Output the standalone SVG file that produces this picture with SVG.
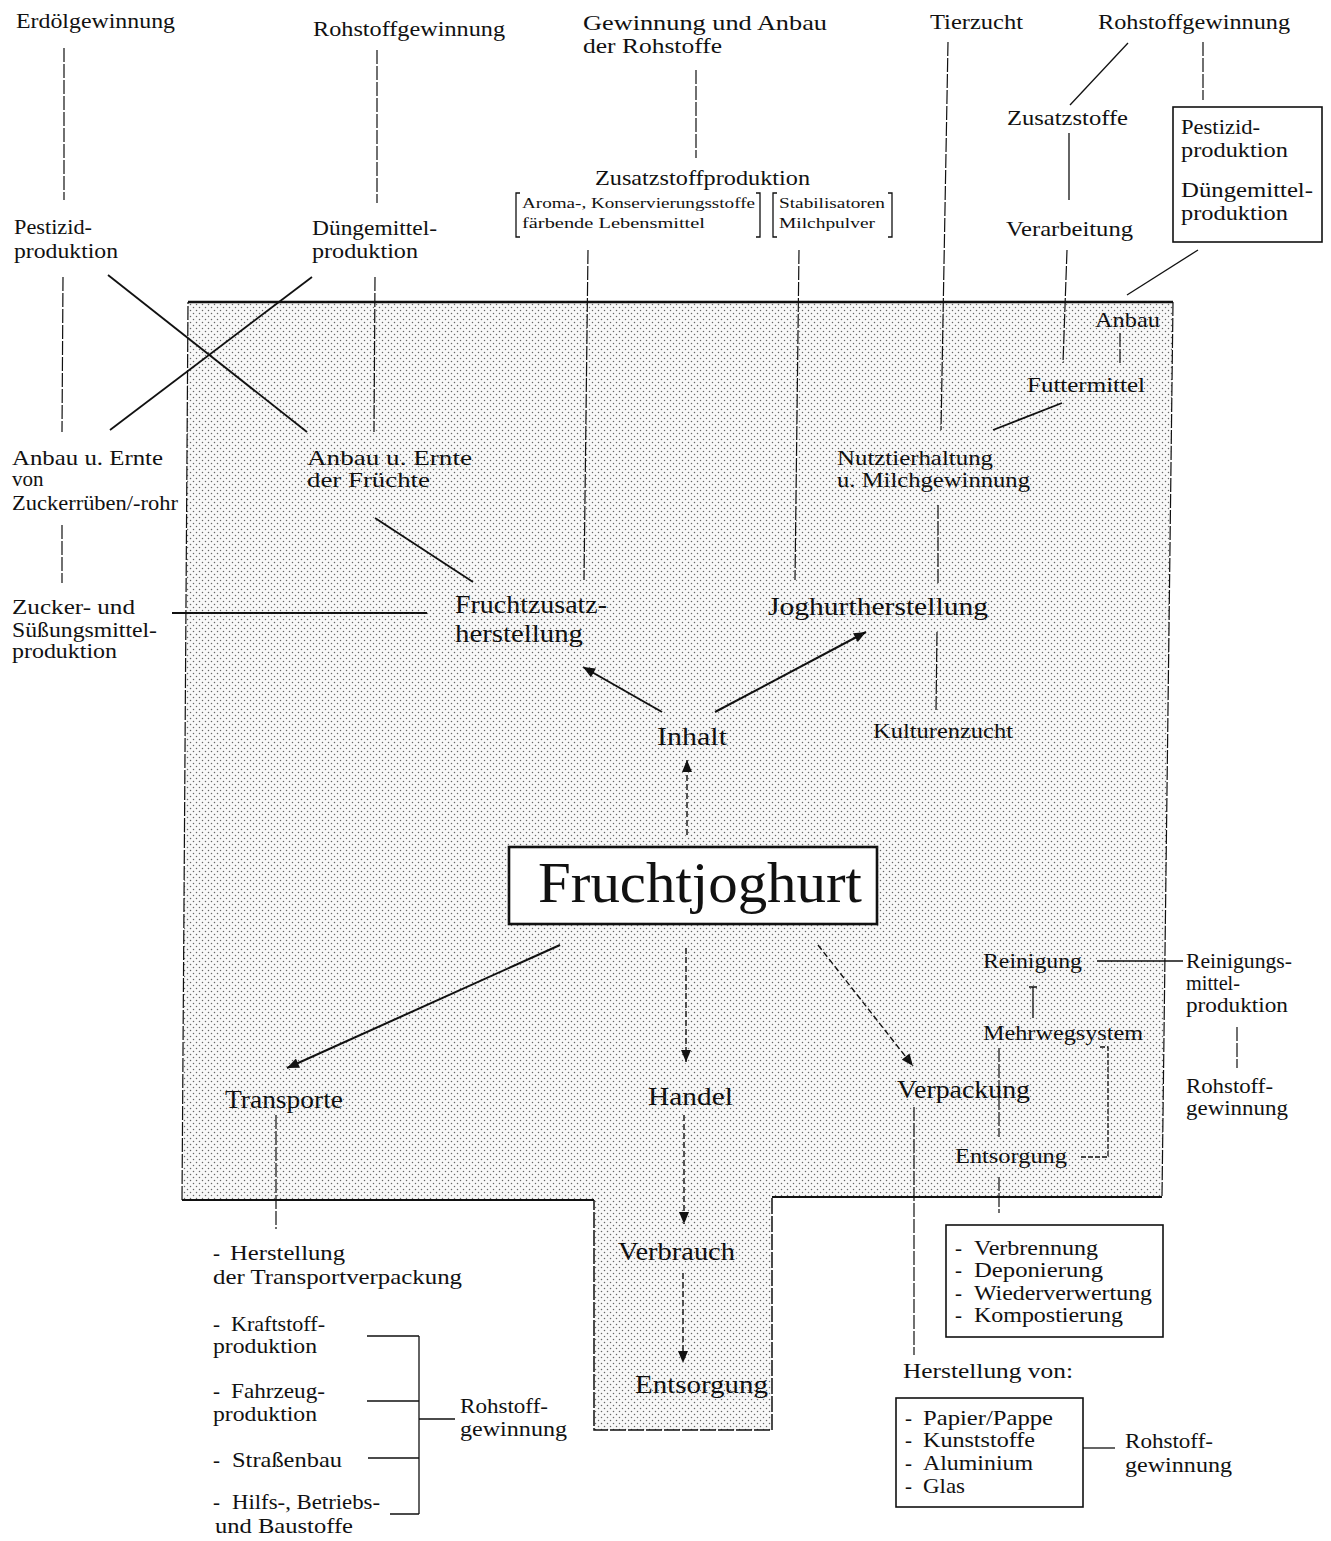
<svg xmlns="http://www.w3.org/2000/svg" width="1331" height="1541" viewBox="0 0 1331 1541">
<style>
text{font-family:"Liberation Serif","Times New Roman",serif;fill:#111;}
.t{font-size:22px;}
.m{font-size:25px;}
.s{font-size:14px;}
.n{font-size:21px;}
.big{font-size:58px;}
.ln{stroke:#111;stroke-width:1.3;fill:none;}
.dl{stroke:#111;stroke-width:1.2;fill:none;stroke-dasharray:14 2;}
.sl{stroke:#111;stroke-width:1.8;fill:none;}
.da{stroke:#111;stroke-width:1.4;fill:none;stroke-dasharray:6 3;marker-end:url(#ah);}
.sa{stroke:#111;stroke-width:2;fill:none;marker-end:url(#ah);}
.box{fill:#fff;stroke:#111;stroke-width:1.6;}
</style>
<defs>
<pattern id="dots" width="6" height="6" patternUnits="userSpaceOnUse">
<rect width="6" height="6" fill="#f8f8f8"/>
<circle cx="1.5" cy="1.5" r="0.75" fill="#666"/>
<circle cx="4.5" cy="4.5" r="0.75" fill="#666"/>
</pattern>
<marker id="ah" viewBox="0 0 12 10" refX="12" refY="5" markerWidth="13" markerHeight="10" markerUnits="userSpaceOnUse" orient="auto">
<path d="M0,0 L12,5 L0,10 z" fill="#111"/>
</marker>
</defs>
<rect width="1331" height="1541" fill="#fff"/>

<g id="region">
<polygon points="188,302 1173,302 1162,1197 772,1198 772,1430 594,1430 594,1200 182,1200" fill="url(#dots)"/>
<path d="M188 302 H1173" stroke="#111" stroke-width="2.6" fill="none"/>
<path d="M1173 302 L1162 1197" class="dl"/>
<path d="M1162 1197 H772" stroke="#111" stroke-width="2" fill="none"/>
<path d="M772 1198 V1430 H594 V1200" stroke="#111" stroke-width="1.5" fill="none" stroke-dasharray="16 2"/>
<path d="M594 1200 H182" stroke="#111" stroke-width="2" fill="none"/>
<path d="M182 1200 L188 302" class="dl"/>
</g>

<g id="connectors">
<path class="dl" d="M64 48 V200"/>
<path class="dl" d="M63 277 L62 432"/>
<path class="dl" d="M62 525 V583"/>
<path class="dl" d="M377 50 V203"/>
<path class="dl" d="M375 277 L374 432"/>
<path class="dl" d="M696 70 V158"/>
<path class="dl" d="M588 250 L584 580"/>
<path class="dl" d="M799 250 L795 580"/>
<path class="dl" d="M948 42 L941 430"/>
<path class="ln" d="M1128 43 L1070 105"/>
<path class="dl" d="M1203 42 V100"/>
<path class="ln" d="M1069 133 V200"/>
<path class="dl" d="M1067 250 L1063 363"/>
<path class="ln" d="M1198 250 L1127 295"/>
<path class="dl" d="M1120 333 V363"/>
<path class="sl" d="M1062 403 L993 430"/>
<path class="dl" d="M938 505 V585"/>
<path class="dl" d="M937 632 L936 712"/>
<path class="sl" d="M108 275 L307 432"/>
<path class="sl" d="M312 277 L110 430"/>
<path class="sl" d="M375 518 L473 582"/>
<path class="sl" d="M172 613 H427"/>
<path class="sa" d="M662 712 L583 667"/>
<path class="sa" d="M715 712 L866 632"/>
<path class="da" d="M687 835 V760"/>
<path class="sa" d="M560 945 L287 1068"/>
<path class="da" d="M686 948 V1062"/>
<path class="da" d="M818 945 L913 1066"/>
<path class="da" d="M684 1115 V1224"/>
<path class="da" d="M683 1273 V1363"/>
<path class="dl" d="M276 1115 V1229"/>
<path class="dl" d="M914 1107 V1355"/>
<path class="ln" d="M1097 961 H1183"/>
<path class="dl" d="M1237 1027 V1068"/>
<path class="ln" d="M1033 987 V1018 M1029 987 H1037"/>
<path class="dl" d="M999 1048 V1137"/>
<path class="dl" d="M999 1177 V1213"/>
<path class="ln" d="M1100 1047 H1108 V1157 H1080" stroke-dasharray="5 2"/>
<path class="ln" d="M1083 1448 H1115"/>
<path class="ln" d="M367 1336 H419 M367 1401 H419 M368 1458 H419 M390 1514 H419 M419 1336 V1514 M419 1419 H455"/>
<path class="ln" d="M520 193 H516 V237 H520 M756 193 H760 V237 H756 M777 193 H773 V237 H777 M888 193 H892 V237 H888"/>
</g>

<g id="n-erdoel"><text class="t" x="16" y="28" textLength="159" lengthAdjust="spacingAndGlyphs">Erdölgewinnung</text></g>
<g id="n-rohstoff1"><text class="t" x="313" y="36" textLength="192" lengthAdjust="spacingAndGlyphs">Rohstoffgewinnung</text></g>
<g id="n-gewinnung"><text class="t" x="583" y="30" textLength="244" lengthAdjust="spacingAndGlyphs">Gewinnung und Anbau</text><text class="t" x="583" y="53" textLength="139" lengthAdjust="spacingAndGlyphs">der Rohstoffe</text></g>
<g id="n-tierzucht"><text class="t" x="930" y="29" textLength="93" lengthAdjust="spacingAndGlyphs">Tierzucht</text></g>
<g id="n-rohstoff2"><text class="t" x="1098" y="29" textLength="192" lengthAdjust="spacingAndGlyphs">Rohstoffgewinnung</text></g>
<g id="n-zusatzstoffe"><text class="t" x="1007" y="125" textLength="121" lengthAdjust="spacingAndGlyphs">Zusatzstoffe</text></g>
<g id="n-verarbeitung"><text class="t" x="1006" y="236" textLength="127" lengthAdjust="spacingAndGlyphs">Verarbeitung</text></g>
<g id="n-pestbox"><rect class="box" x="1173" y="107" width="149" height="135"/>
<text class="t" x="1181" y="134" textLength="79" lengthAdjust="spacingAndGlyphs">Pestizid-</text>
<text class="t" x="1181" y="157" textLength="107" lengthAdjust="spacingAndGlyphs">produktion</text>
<text class="t" x="1181" y="197" textLength="132" lengthAdjust="spacingAndGlyphs">Düngemittel-</text>
<text class="t" x="1181" y="220" textLength="107" lengthAdjust="spacingAndGlyphs">produktion</text></g>
<g id="n-zusatzprod"><text class="t" x="595" y="185" textLength="215" lengthAdjust="spacingAndGlyphs">Zusatzstoffproduktion</text>
<text class="s" x="522" y="208" textLength="233" lengthAdjust="spacingAndGlyphs">Aroma-, Konservierungsstoffe</text>
<text class="s" x="522" y="228" textLength="183" lengthAdjust="spacingAndGlyphs">färbende Lebensmittel</text>
<text class="s" x="779" y="208" textLength="106" lengthAdjust="spacingAndGlyphs">Stabilisatoren</text>
<text class="s" x="779" y="228" textLength="96" lengthAdjust="spacingAndGlyphs">Milchpulver</text></g>
<g id="n-pestizid"><text class="t" x="14" y="234" textLength="78" lengthAdjust="spacingAndGlyphs">Pestizid-</text><text class="t" x="14" y="258" textLength="104" lengthAdjust="spacingAndGlyphs">produktion</text></g>
<g id="n-duenge"><text class="t" x="312" y="235" textLength="125" lengthAdjust="spacingAndGlyphs">Düngemittel-</text><text class="t" x="312" y="258" textLength="106" lengthAdjust="spacingAndGlyphs">produktion</text></g>
<g id="n-anbauzucker"><text class="n" x="12" y="465" textLength="151" lengthAdjust="spacingAndGlyphs">Anbau u. Ernte</text><text class="n" x="12" y="486">von</text><text class="n" x="12" y="510" textLength="166" lengthAdjust="spacingAndGlyphs">Zuckerrüben/-rohr</text></g>
<g id="n-anbaufruechte"><text class="n" x="307" y="465" textLength="165" lengthAdjust="spacingAndGlyphs">Anbau u. Ernte</text><text class="n" x="307" y="487" textLength="123" lengthAdjust="spacingAndGlyphs">der Früchte</text></g>
<g id="n-zucker"><text class="n" x="12" y="614" textLength="123" lengthAdjust="spacingAndGlyphs">Zucker- und</text><text class="n" x="12" y="637" textLength="145" lengthAdjust="spacingAndGlyphs">Süßungsmittel-</text><text class="n" x="12" y="658" textLength="105" lengthAdjust="spacingAndGlyphs">produktion</text></g>
<g id="n-fruchtzusatz"><text class="m" x="455" y="613" textLength="152" lengthAdjust="spacingAndGlyphs">Fruchtzusatz-</text><text class="m" x="455" y="642" textLength="128" lengthAdjust="spacingAndGlyphs">herstellung</text></g>
<g id="n-joghurt"><text class="m" x="768" y="615" textLength="220" lengthAdjust="spacingAndGlyphs">Joghurtherstellung</text></g>
<g id="n-inhalt"><text class="m" x="657" y="745" textLength="70" lengthAdjust="spacingAndGlyphs">Inhalt</text></g>
<g id="n-kultur"><text class="n" x="873" y="738" textLength="140" lengthAdjust="spacingAndGlyphs">Kulturenzucht</text></g>
<g id="n-nutztier"><text class="n" x="837" y="465" textLength="156" lengthAdjust="spacingAndGlyphs">Nutztierhaltung</text><text class="n" x="837" y="487" textLength="193" lengthAdjust="spacingAndGlyphs">u. Milchgewinnung</text></g>
<g id="n-anbau"><text class="n" x="1095" y="327" textLength="65" lengthAdjust="spacingAndGlyphs">Anbau</text></g>
<g id="n-futter"><text class="n" x="1027" y="392" textLength="118" lengthAdjust="spacingAndGlyphs">Futtermittel</text></g>
<g id="n-fruchtjoghurt"><rect x="509" y="847" width="368" height="77" fill="#fff" stroke="#111" stroke-width="2.6"/><text class="big" x="538" y="902" textLength="324" lengthAdjust="spacingAndGlyphs">Fruchtjoghurt</text></g>
<g id="n-transporte"><text class="m" x="225" y="1108" textLength="118" lengthAdjust="spacingAndGlyphs">Transporte</text></g>
<g id="n-handel"><text class="m" x="648" y="1105" textLength="85" lengthAdjust="spacingAndGlyphs">Handel</text></g>
<g id="n-verpackung"><text class="m" x="897" y="1098" textLength="133" lengthAdjust="spacingAndGlyphs">Verpackung</text></g>
<g id="n-reinigung"><text class="n" x="983" y="968" textLength="99" lengthAdjust="spacingAndGlyphs">Reinigung</text></g>
<g id="n-reinigungsmittel"><text class="n" x="1186" y="968" textLength="106" lengthAdjust="spacingAndGlyphs">Reinigungs-</text><text class="n" x="1186" y="990" textLength="54" lengthAdjust="spacingAndGlyphs">mittel-</text><text class="n" x="1186" y="1012" textLength="102" lengthAdjust="spacingAndGlyphs">produktion</text></g>
<g id="n-rohstoff3"><text class="n" x="1186" y="1093" textLength="87" lengthAdjust="spacingAndGlyphs">Rohstoff-</text><text class="n" x="1186" y="1115" textLength="102" lengthAdjust="spacingAndGlyphs">gewinnung</text></g>
<g id="n-mehrweg"><text class="n" x="983" y="1040" textLength="160" lengthAdjust="spacingAndGlyphs">Mehrwegsystem</text></g>
<g id="n-entsorgung2"><text class="n" x="955" y="1163" textLength="112" lengthAdjust="spacingAndGlyphs">Entsorgung</text></g>
<g id="n-entsbox"><rect class="box" x="946" y="1225" width="217" height="112"/>
<text class="n" x="955" y="1255">-</text><text class="n" x="974" y="1255" textLength="124" lengthAdjust="spacingAndGlyphs">Verbrennung</text>
<text class="n" x="955" y="1277">-</text><text class="n" x="974" y="1277" textLength="129" lengthAdjust="spacingAndGlyphs">Deponierung</text>
<text class="n" x="955" y="1300">-</text><text class="n" x="974" y="1300" textLength="178" lengthAdjust="spacingAndGlyphs">Wiederverwertung</text>
<text class="n" x="955" y="1322">-</text><text class="n" x="974" y="1322" textLength="149" lengthAdjust="spacingAndGlyphs">Kompostierung</text></g>
<g id="n-herstellungvon"><text class="n" x="903" y="1378" textLength="170" lengthAdjust="spacingAndGlyphs">Herstellung von:</text></g>
<g id="n-matbox"><rect class="box" x="896" y="1398" width="187" height="109"/>
<text class="n" x="905" y="1425">-</text><text class="n" x="923" y="1425" textLength="130" lengthAdjust="spacingAndGlyphs">Papier/Pappe</text>
<text class="n" x="905" y="1447">-</text><text class="n" x="923" y="1447" textLength="112" lengthAdjust="spacingAndGlyphs">Kunststoffe</text>
<text class="n" x="905" y="1470">-</text><text class="n" x="923" y="1470" textLength="110" lengthAdjust="spacingAndGlyphs">Aluminium</text>
<text class="n" x="905" y="1493">-</text><text class="n" x="923" y="1493" textLength="42" lengthAdjust="spacingAndGlyphs">Glas</text></g>
<g id="n-rohstoff4"><text class="n" x="1125" y="1448" textLength="88" lengthAdjust="spacingAndGlyphs">Rohstoff-</text><text class="n" x="1125" y="1472" textLength="107" lengthAdjust="spacingAndGlyphs">gewinnung</text></g>
<g id="n-verbrauch"><text class="m" x="618" y="1260" textLength="117" lengthAdjust="spacingAndGlyphs">Verbrauch</text></g>
<g id="n-entsorgung1"><text class="m" x="635" y="1393" textLength="133" lengthAdjust="spacingAndGlyphs">Entsorgung</text></g>
<g id="n-transportlist">
<text class="n" x="213" y="1260">-</text><text class="n" x="230" y="1260" textLength="115" lengthAdjust="spacingAndGlyphs">Herstellung</text>
<text class="n" x="213" y="1284" textLength="249" lengthAdjust="spacingAndGlyphs">der Transportverpackung</text>
<text class="n" x="213" y="1331">-</text><text class="n" x="231" y="1331" textLength="94" lengthAdjust="spacingAndGlyphs">Kraftstoff-</text>
<text class="n" x="213" y="1353" textLength="104" lengthAdjust="spacingAndGlyphs">produktion</text>
<text class="n" x="213" y="1398">-</text><text class="n" x="231" y="1398" textLength="94" lengthAdjust="spacingAndGlyphs">Fahrzeug-</text>
<text class="n" x="213" y="1421" textLength="104" lengthAdjust="spacingAndGlyphs">produktion</text>
<text class="n" x="213" y="1467">-</text><text class="n" x="232" y="1467" textLength="110" lengthAdjust="spacingAndGlyphs">Straßenbau</text>
<text class="n" x="213" y="1509">-</text><text class="n" x="232" y="1509" textLength="148" lengthAdjust="spacingAndGlyphs">Hilfs-, Betriebs-</text>
<text class="n" x="215" y="1533" textLength="138" lengthAdjust="spacingAndGlyphs">und Baustoffe</text></g>
<g id="n-rohstoff5"><text class="n" x="460" y="1413" textLength="88" lengthAdjust="spacingAndGlyphs">Rohstoff-</text><text class="n" x="460" y="1436" textLength="107" lengthAdjust="spacingAndGlyphs">gewinnung</text></g>
</svg>
